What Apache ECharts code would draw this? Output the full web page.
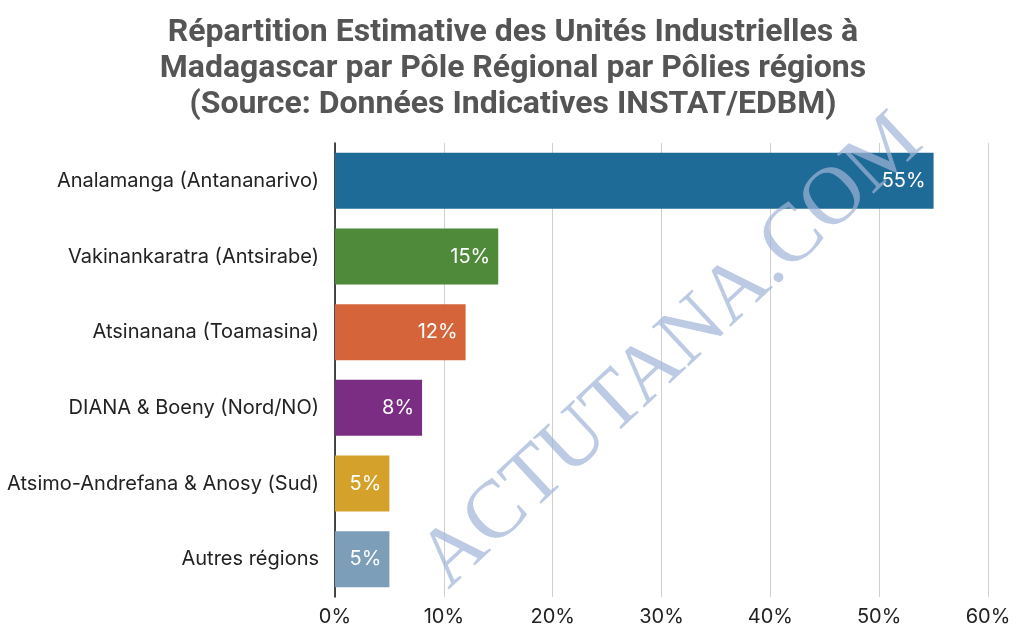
<!DOCTYPE html>
<html>
<head>
<meta charset="utf-8">
<title>Répartition des unités industrielles</title>
<script src="https://cdn.jsdelivr.net/npm/echarts@6/dist/echarts.min.js"></script>
<style>
  html, body { margin: 0; padding: 0; background: #fff; }
  #chart { width: 1024px; height: 640px; }
</style>
</head>
<body>
<div id="chart"></div>
<script>
var regions = [
  'Analamanga (Antananarivo)',
  'Vakinankaratra (Antsirabe)',
  'Atsinanana (Toamasina)',
  'DIANA & Boeny (Nord/NO)',
  'Atsimo-Andrefana & Anosy (Sud)',
  'Autres régions'
];
var shares = [55, 15, 12, 8, 5, 5];
var barColors = ['#1f6b98', '#4f8a3b', '#d5643a', '#7a2d83', '#d4a22b', '#7d9eb9'];

var titleText = 'Répartition Estimative des Unités Industrielles à\n' +
  'Madagascar par Pôle Régional par Pôlies régions\n' +
  '(Source: Données Indicatives INSTAT/EDBM)';

var chart = echarts.init(document.getElementById('chart'));

chart.setOption({
  textStyle: { fontFamily: 'Inter' },
  title: {
    text: titleText,
    left: 508,
    textAlign: 'center',
    top: 10,
    textStyle: {
      fontFamily: 'Roboto',
      fontSize: 32,
      fontWeight: 'bold',
      color: '#555555',
      lineHeight: 36
    }
  },
  grid: { left: 335, right: 36, top: 143, bottom: 43 },
  xAxis: {
    type: 'value',
    min: 0,
    max: 60,
    interval: 10,
    axisLine: { show: false },
    axisTick: { show: false },
    axisLabel: { formatter: '{value}%', fontSize: 20, color: '#222', margin: 10 },
    splitLine: { lineStyle: { color: '#cfcfcf', width: 1 } }
  },
  yAxis: {
    type: 'category',
    data: regions,
    inverse: true,
    axisLine: { lineStyle: { color: '#111', width: 1.5 } },
    axisTick: { show: false },
    axisLabel: { fontSize: 20, color: '#222', margin: 16 }
  },
  series: [{
    type: 'bar',
    data: shares.map(function (v, i) {
      return { value: v, itemStyle: { color: barColors[i] } };
    }),
    barWidth: 56,
    label: {
      show: true,
      position: 'insideRight',
      distance: 8,
      formatter: '{c}%',
      color: '#fff',
      fontSize: 20
    }
  }],
  graphic: [{
    type: 'text',
    x: 672,
    y: 352,
    rotation: 43 * Math.PI / 180,
    z: 100,
    style: {
      text: 'ACTUTANA.COM',
      font: '82px "Liberation Serif"',
      fill: 'rgba(160, 180, 215, 0.7)',
      align: 'center',
      verticalAlign: 'middle'
    }
  }]
});
</script>
</body>
</html>
